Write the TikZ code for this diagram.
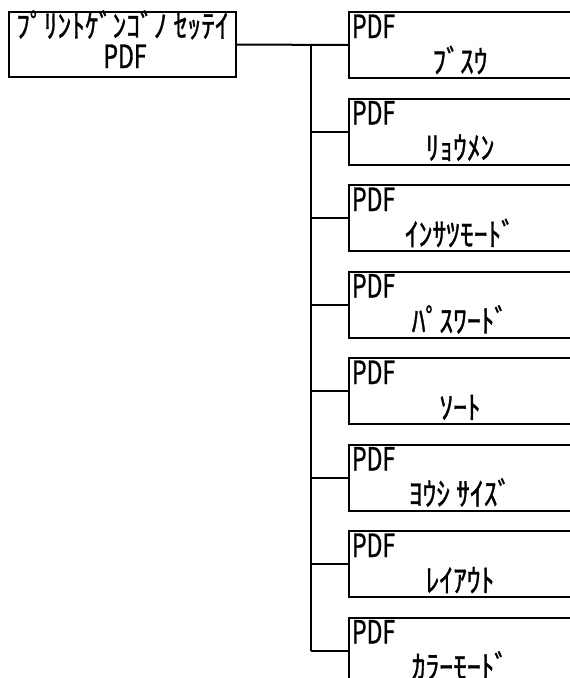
\documentclass[tikz,border=0pt]{standalone}
\usepackage{fontspec}
\setmainfont{Noto Sans CJK JP}[FakeStretch=0.86, FakeBold=1]
\newfontfamily\pdffont{Noto Sans CJK JP}[FakeStretch=0.72, FakeBold=1]
\begin{document}
\begin{tikzpicture}[x=1pt, y=-1pt, line width=2pt,
  mainbox/.style={draw, rectangle, inner sep=0pt, minimum width=227pt, minimum height=65pt},
  itembox/.style={draw, rectangle, inner sep=0pt, minimum width=222pt, minimum height=66pt},
  txt/.style={inner sep=0pt, font=\fontsize{32}{34}\selectfont}]
\useasboundingbox (0,0) rectangle (570,678);
% Top
\node[mainbox] (top) at (122.5,44.5) {};
\node[txt, anchor=base] (title) at (122.5,37.5) {ﾌﾟﾘﾝﾄｹﾞﾝｺﾞﾉ ｾｯﾃｲ};
\node[txt, anchor=base] (titlepdf) at (125,68) {\pdffont PDF};
\coordinate (trunk) at (311,0);
% Items
\foreach \name [count=\i] in {ﾌﾞｽｳ, ﾘｮｳﾒﾝ, ｲﾝｻﾂﾓｰﾄﾞ, ﾊﾟｽﾜｰﾄﾞ, ｿｰﾄ, ﾖｳｼ ｻｲｽﾞ, ﾚｲｱｳﾄ, ｶﾗｰﾓｰﾄﾞ} {
  \node[itembox] (item\i) at (460,{45+86.5*(\i-1)}) {};
  \node[txt, anchor=base west] (pdf\i) at ([xshift=3pt,yshift=-27pt]item\i.north west) {\pdffont PDF};
  \node[txt, anchor=base] (lbl\i) at ([yshift=6pt]item\i.south) {\name};
}
% Lines
\draw (top.east) -- (item1.west);
\draw (item1.west -| trunk) -- (item8.west -| trunk);
\foreach \i in {2,...,8}
  \draw (item\i.west -| trunk) -- (item\i.west);
\end{tikzpicture}
\end{document}
